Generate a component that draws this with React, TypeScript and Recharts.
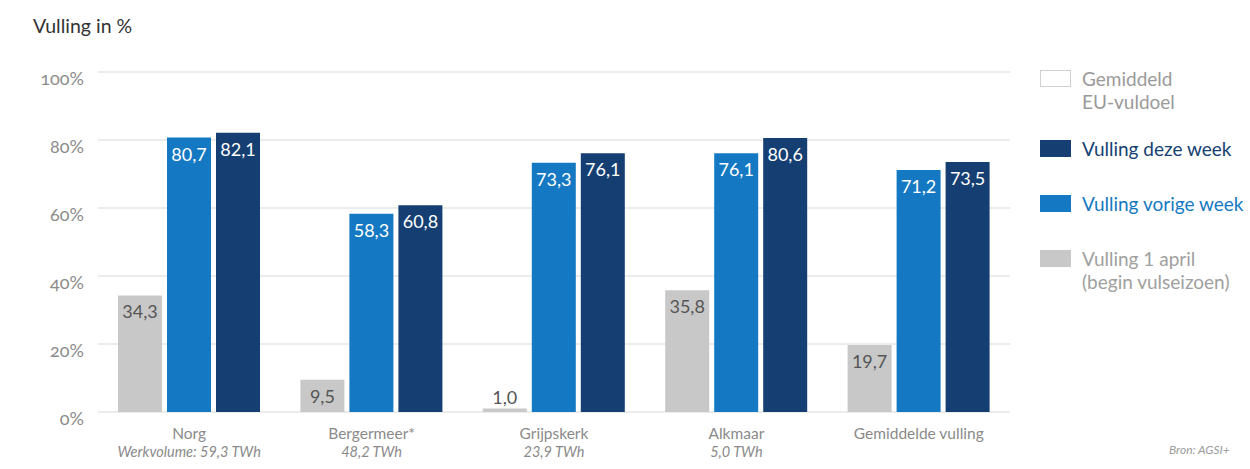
import React from 'react';
import { BarChart, Bar, XAxis, YAxis, CartesianGrid, LabelList } from 'recharts';

const categories = ['Norg', 'Bergermeer*', 'Grijpskerk', 'Alkmaar', 'Gemiddelde vulling'];
const subLabels = ['Werkvolume: 59,3 TWh', '48,2 TWh', '23,9 TWh', '5,0 TWh', ''];
const april = [34.3, 9.5, 1.0, 35.8, 19.7];
const vorigeWeek = [80.7, 58.3, 73.3, 76.1, 71.2];
const dezeWeek = [82.1, 60.8, 76.1, 80.6, 73.5];
const yTicks = [0, 20, 40, 60, 80, 100];

const data = categories.map((c, i) => ({
  name: c,
  sub: subLabels[i],
  april: april[i],
  vorige: vorigeWeek[i],
  deze: dezeWeek[i],
}));

const FONT = 'Lato, "Open Sans", sans-serif';
const GRAY = '#c8c8c8';
const BLUE = '#1479c2';
const DARK = '#153f72';

const fmt = (v: number) => v.toFixed(1).replace('.', ',');

const YTick = (props: any) => {
  const { x, y, payload } = props;
  return (
    <text x={x} y={y + 6} textAnchor="end" dominantBaseline="central" fontSize={18} fill="#8c8c8c" fontFamily={FONT} style={{ fontFeatureSettings: '"onum"' }}>
      {payload.value}%
    </text>
  );
};

const XTick = (props: any) => {
  const { x, y, payload, index } = props;
  return (
    <g>
      <text x={x} y={y + 13} textAnchor="middle" dominantBaseline="central" fontSize={15.5} fill="#8a8a8a" fontFamily={FONT}>
        {payload.value}
      </text>
      <text x={x} y={y + 31} textAnchor="middle" dominantBaseline="central" fontSize={14.5} fontStyle="italic" fill="#8a8a8a" fontFamily={FONT}>
        {subLabels[index]}
      </text>
    </g>
  );
};

const makeLabel = (color: string) => (props: any) => {
  const { x, y, width, height, value } = props;
  const small = height < 20;
  const cy = small ? y - 12 : y + 16;
  return (
    <text x={x + width / 2} y={cy} textAnchor="middle" dominantBaseline="central" fontSize={18} fill={small ? '#555' : color} fontFamily={FONT}>
      {fmt(value)}
    </text>
  );
};

const legendItems = [
  { lines: ['Gemiddeld', 'EU-vuldoel'], box: '#ffffff', border: '#d0d0d0', color: '#9a9a9a', top: 70 },
  { lines: ['Vulling deze week'], box: DARK, border: DARK, color: DARK, top: 140 },
  { lines: ['Vulling vorige week'], box: BLUE, border: BLUE, color: BLUE, top: 195 },
  { lines: ['Vulling 1 april', '(begin vulseizoen)'], box: GRAY, border: GRAY, color: '#a0a0a0', top: 250 },
];

const LegendBlock = () => (
  <div style={{ position: 'absolute', left: 1040, top: 70, width: 210, height: 240, fontFamily: FONT }}>
    {legendItems.map((it, i) => (
      <div key={i} style={{ position: 'absolute', left: 0, top: it.top - 70 }}>
        <div style={{ position: 'absolute', left: 0, top: 0, width: 29, height: 15, background: it.box, border: `1px solid ${it.border}` }} />
        <div style={{ position: 'absolute', left: 42, top: -3, color: it.color, fontSize: 19, lineHeight: '23px', whiteSpace: 'nowrap' }}>
          {it.lines.map((l, j) => (
            <div key={j}>{l}</div>
          ))}
        </div>
      </div>
    ))}
  </div>
);

export default function App() {
  return (
    <div style={{ position: 'absolute', left: 0, top: 0, width: 1250, height: 469, background: '#fff', fontFamily: FONT }}>
      <div style={{ position: 'absolute', left: 33, top: 14, fontSize: 19.5, color: '#333', whiteSpace: 'nowrap' }}>Vulling in %</div>
      <div style={{ position: 'absolute', left: 1169, top: 442, fontSize: 12, fontStyle: 'italic', color: '#9a9a9a', whiteSpace: 'nowrap' }}>Bron: AGSI+</div>
      <BarChart
        width={1250}
        height={469}
        data={data}
        margin={{ top: 72, right: 240, bottom: 0, left: 0 }}
        barSize={44}
        barGap={5}
      >
        <CartesianGrid horizontal vertical={false} stroke="#d9d9d9" />
        <XAxis dataKey="name" axisLine={false} tickLine={false} tick={<XTick />} interval={0} height={57} />
        <YAxis domain={[0, 100]} ticks={yTicks} axisLine={false} tickLine={false} width={98} tickMargin={8} tick={<YTick />} />
        <Bar dataKey="april" name="Vulling 1 april" fill={GRAY} isAnimationActive={false}>
          <LabelList dataKey="april" content={makeLabel('#555')} />
        </Bar>
        <Bar dataKey="vorige" name="Vulling vorige week" fill={BLUE} isAnimationActive={false}>
          <LabelList dataKey="vorige" content={makeLabel('#ffffff')} />
        </Bar>
        <Bar dataKey="deze" name="Vulling deze week" fill={DARK} isAnimationActive={false}>
          <LabelList dataKey="deze" content={makeLabel('#ffffff')} />
        </Bar>
      </BarChart>
      <LegendBlock />
    </div>
  );
}
